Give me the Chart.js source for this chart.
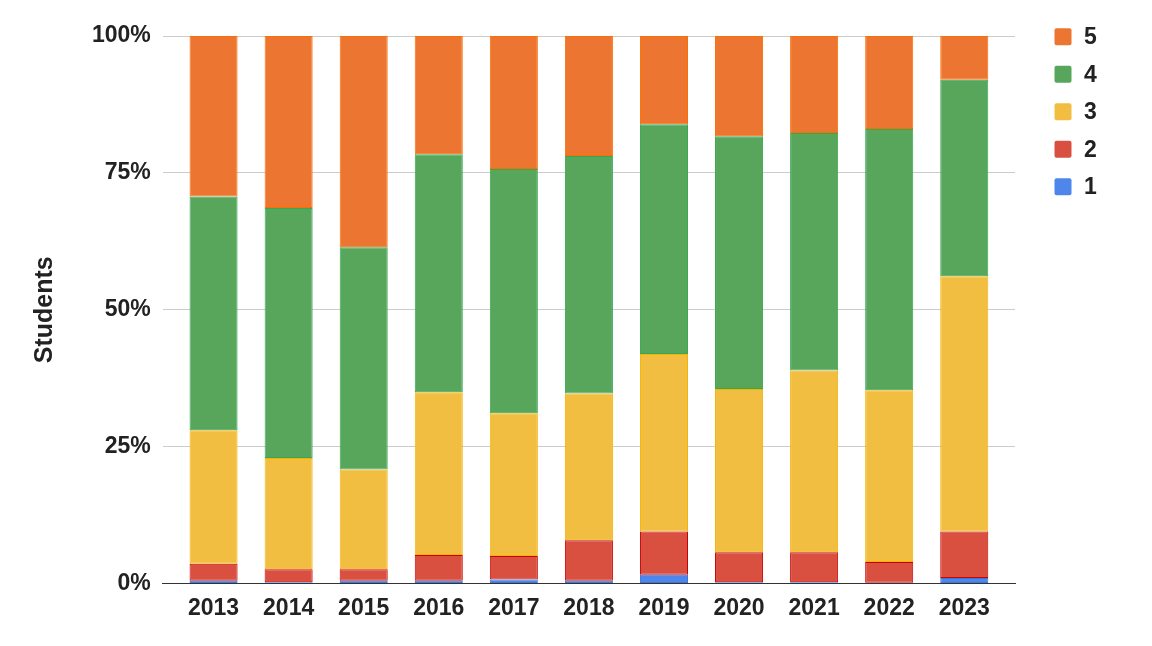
<!DOCTYPE html>
<html>
<head>
<meta charset="utf-8">
<script src="https://cdn.jsdelivr.net/npm/chart.js@4/dist/chart.umd.min.js"></script>
<style>
  html, body { margin: 0; padding: 0; background: #fff; }
  canvas { display: block; }
</style>
</head>
<body>
<canvas id="chart" width="1152" height="646"></canvas>
<script>
const years = ["2013", "2014", "2015", "2016", "2017", "2018", "2019", "2020", "2021", "2022", "2023"];
const score1 = [0.5, 0.2, 0.5, 0.5, 0.7, 0.5, 1.6, 0.2, 0.2, 0.1, 1.0];
const score2 = [3.1, 2.4, 2.1, 4.7, 4.3, 7.4, 7.9, 5.5, 5.5, 3.8, 8.5];
const score3 = [24.4, 20.3, 18.2, 29.7, 26.1, 26.8, 32.4, 29.8, 33.2, 31.4, 46.6];
const score4 = [42.7, 45.7, 40.6, 43.5, 44.6, 43.4, 42.0, 46.2, 43.4, 47.7, 35.9];
const score5 = [29.3, 31.4, 38.6, 21.6, 24.3, 21.9, 16.1, 18.3, 17.7, 17.0, 8.0];
const yTicks = [0, 25, 50, 75, 100];

const FAMILY = "'Liberation Sans', Arial, sans-serif";
const font = { family: FAMILY, size: 23, weight: "bold" };

function series(label, data, fill, stroke) {
  return {
    label: label,
    data: data,
    backgroundColor: fill,
    borderColor: stroke,
    borderWidth: 1,
    borderSkipped: false,
    barPercentage: 0.64,
    categoryPercentage: 1,
  };
}

// legend drawn by hand, top-aligned with the plot, 5 on top
const sideLegend = {
  id: "sideLegend",
  afterDraw(chart) {
    const ctx = chart.ctx;
    const area = chart.chartArea;
    const sets = chart.data.datasets.slice().reverse();
    ctx.save();
    ctx.font = "bold 23px " + FAMILY;
    ctx.textBaseline = "middle";
    ctx.textAlign = "left";
    sets.forEach((ds, i) => {
      const cy = area.top + 0.7 + i * 37.5;
      const x = area.right + 39.5;
      ctx.fillStyle = ds.backgroundColor;
      ctx.beginPath();
      ctx.roundRect(x, cy - 8.5, 17, 17, 2);
      ctx.fill();
      ctx.fillStyle = "#222";
      ctx.fillText(ds.label, x + 29.5, cy + 1);
    });
    ctx.restore();
  },
};

new Chart(document.getElementById("chart"), {
  type: "bar",
  data: {
    labels: years,
    datasets: [
      series("1", score1, "#4f86ec", "#3c78d8"),
      series("2", score2, "#d95040", "#cc0000"),
      series("3", score3, "#f1be42", "#f4b400"),
      series("4", score4, "#58a65c", "#34a853"),
      series("5", score5, "#ec7532", "#ff6d01"),
    ],
  },
  plugins: [sideLegend],
  options: {
    responsive: false,
    animation: false,
    layout: { padding: { top: 36, left: 30, right: 137, bottom: 21 } },
    plugins: {
      tooltip: { enabled: false },
      legend: { display: false },
    },
    scales: {
      x: {
        stacked: true,
        grid: { display: false },
        border: { color: "#333", width: 1 },
        ticks: { font: font, color: "#222", padding: 3 },
        // leave some empty room at both ends of the category axis
        afterBuildTicks: (axis) => {
          const extra = 0.176;
          axis._startValue -= extra;
          axis._valueRange += 2 * extra;
        },
      },
      y: {
        stacked: true,
        min: 0,
        max: 100,
        afterBuildTicks: (axis) => {
          axis.ticks = yTicks.map((v) => ({ value: v }));
        },
        grid: { color: "#cccccc", drawTicks: false },
        border: { display: false },
        ticks: {
          font: font,
          color: "#222",
          padding: 12,
          callback: (v) => v + "%",
        },
        title: {
          display: true,
          text: "Students",
          font: { family: FAMILY, size: 25, weight: "bold" },
          color: "#222",
          padding: { top: 0, bottom: 20 },
        },
      },
    },
  },
});
</script>
</body>
</html>
